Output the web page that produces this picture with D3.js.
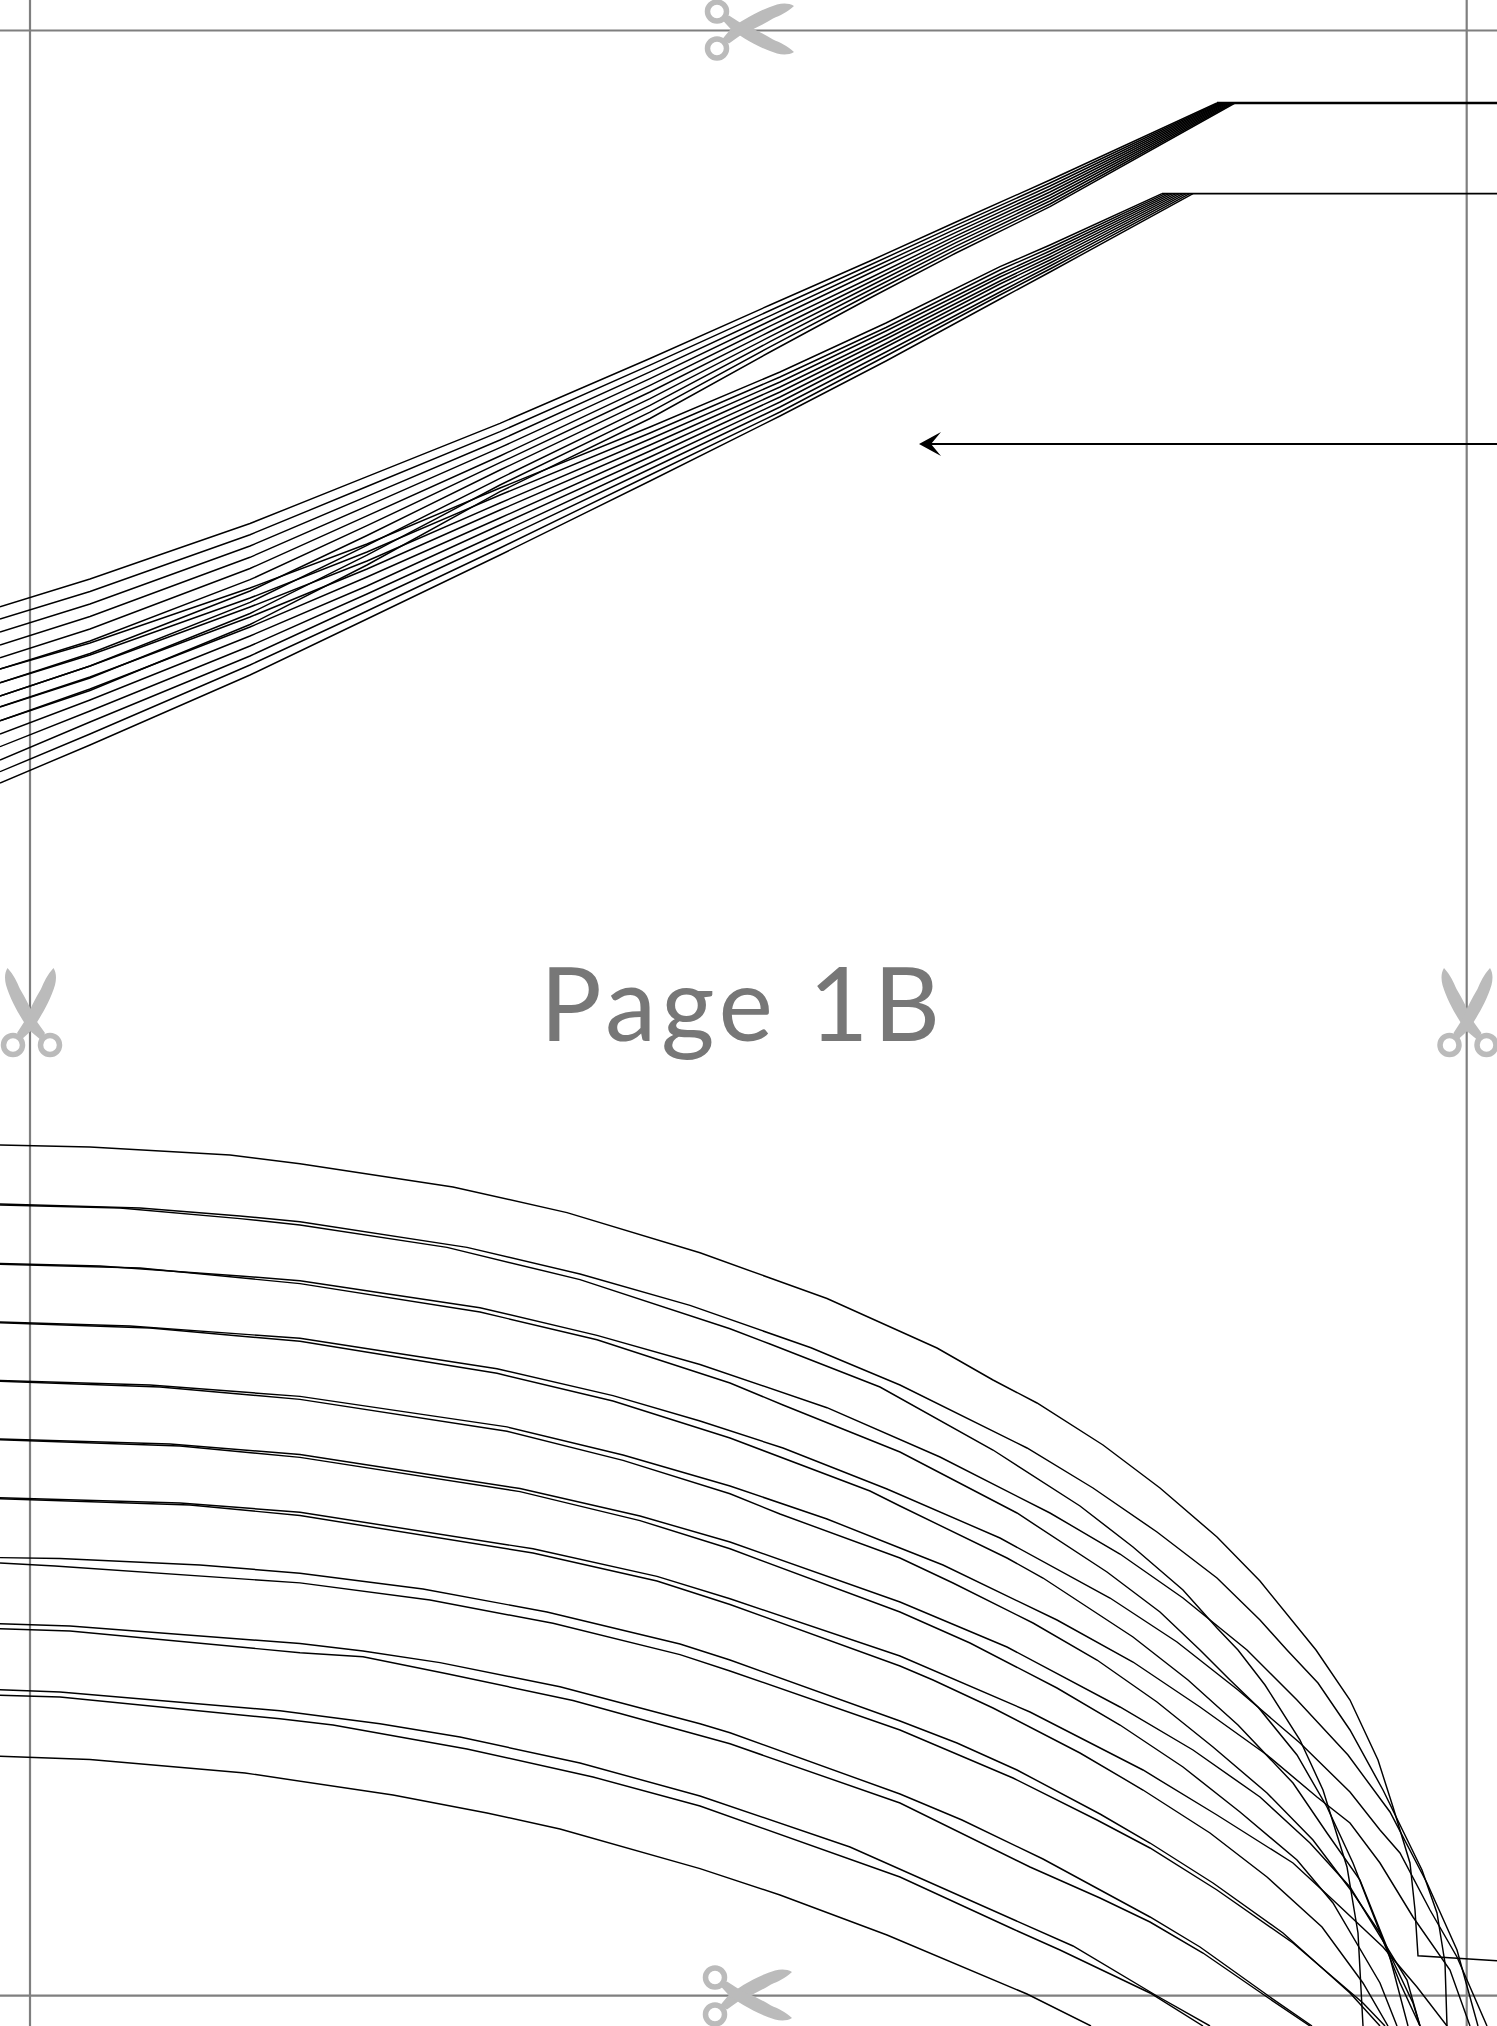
<!DOCTYPE html>
<html>
<head>
<meta charset="utf-8">
<script src="https://cdn.jsdelivr.net/npm/d3@7"></script>
<style>html,body{margin:0;padding:0;background:#fff;overflow:hidden}svg{display:block}</style>
</head>
<body>
<svg id="chart" width="1497" height="2026"></svg>
<script>
// ---- DATA (pattern sheet units) ----
const pageTitle = "Page 1B";
const sheetXDomain = [0, 1497];
const sheetYDomain = [0, 2026];
const cutX = [30, 1466.7];
const cutY = [30.5, 1995.7];

// upper graded seam, set A
const bundleAX = [0, 90, 250, 367, 500, 650, 770, 870, 956, 1050];
const bundleAY = [
  [606.7,579.0,523.5,476.7,423.3,358.5,305.0,261.0,222.0,180.0],
  [619.0,591.5,534.7,486.5,431.7,365.2,310.5,265.0,225.4,183.0],
  [632.0,604.0,546.0,496.3,440.0,371.9,315.8,269.0,228.9,186.0],
  [645.0,616.5,557.3,506.1,447.7,378.6,321.0,273.0,232.3,189.0],
  [657.7,629.0,568.5,515.9,456.0,385.3,326.2,278.0,235.8,192.0],
  [669.0,641.0,579.7,525.7,462.7,392.0,331.5,282.0,239.2,195.0],
  [682.7,653.5,591.0,535.5,470.0,398.7,336.6,286.0,242.7,198.0],
  [696.0,666.0,602.3,545.3,478.3,405.4,341.7,290.0,246.1,201.0],
  [707.0,678.0,613.5,555.1,485.0,412.1,346.8,294.0,249.6,204.0],
  [720.7,690.5,624.5,565.0,491.7,418.5,352.0,298.0,253.0,206.7]
];
const bundleAEndX = [1217,1219,1221,1223,1225,1227,1229,1231,1233,1235];
const bundleALevel = 103;

// upper graded seam, set B
const bundleBX = [0, 90, 250, 367, 500, 650, 780, 886, 1000, 1050];
const bundleBY = [
  [669.0,643,588,544,488,427,372,323.0,266.7,245],
  [682.7,655,598,552,495,433,377,327.5,270.0,248],
  [696.0,666,607,561,503,439,382,331.0,274.0,251],
  [706.7,677,617,569,510,445,387,335.5,277.0,254],
  [720.7,689,627,577,518,451,392,339.0,281.0,257],
  [734.0,700,636,586,525,457,397,343.5,284.0,260],
  [746.7,711,646,594,533,463,402,347.0,288.0,263],
  [760.0,722,656,602,540,469,407,352.0,292.0,266],
  [771.7,734,665,611,548,475,412,356.0,295.0,269],
  [783.0,745,675,619,555,481,416,361.0,299.0,272]
];
const bundleBEndX = [1162,1165.4,1168.9,1172.3,1175.8,1179.2,1182.7,1186.1,1189.6,1193];
const bundleBLevel = 193.7;

// leader lines and arrow
const leaderRightX = 1497;
const arrowLevel = 444;
const arrowTipX = 919;
const arrowBackX = 941;
const arrowNotchX = 931;
const arrowHalfHeight = 12;

// lower graded hem
const curveL0 = [[0,1145],[90,1147],[230,1155],[300,1163.7],[453,1187],[567,1212.6],[700,1252.8],[770,1278],[827,1298.5],[937,1348],[993,1380],[1037,1403],[1103,1445],[1160,1488],[1217,1537],[1260,1581],[1316,1650],[1350,1700],[1378,1760],[1393,1807],[1410,1863],[1415,1910],[1418,1955.7],[1497,1960.7]];
const curveL1a = [[0,1204],[140,1208],[240,1216],[300,1221.7],[467,1247.4],[580,1274],[690,1305.4],[811,1347.8],[900,1385],[1027,1448],[1093,1488],[1157,1532],[1217,1578],[1260,1620],[1287,1650],[1318,1683],[1350,1730],[1383,1790],[1422,1870],[1437,1913],[1445,1963],[1447,2026]];
const curveL1b = [[0,1205],[120,1208],[240,1218.6],[300,1225],[447,1247.4],[580,1279.6],[730,1328.7],[770,1344],[880,1387],[993,1450],[1080,1506],[1133,1547],[1183,1590],[1217,1628],[1238,1650],[1265,1685],[1300,1740],[1323,1790],[1347,1867],[1358,1933],[1363,2026]];
const curveL2a = [[0,1263.4],[100,1266],[240,1276],[300,1280.7],[480,1307.7],[597,1335.4],[700,1364.5],[827,1407.7],[940,1457],[1050,1513],[1120,1554],[1183,1598],[1247,1650],[1297,1700],[1348,1755],[1390,1812],[1427,1883],[1457,1950],[1478,2026]];
const curveL2b = [[0,1264.3],[140,1268],[300,1283.6],[480,1312],[597,1339.8],[730,1383],[783,1405],[900,1452],[1017,1513],[1107,1572],[1160,1612],[1200,1650],[1230,1680],[1258,1707],[1297,1755],[1327,1807],[1353,1863],[1383,1940],[1413,2003],[1420,2026]];
const curveL3a = [[0,1322],[130,1326],[300,1338.3],[497,1368.8],[613,1395.6],[700,1421],[783,1448],[887,1489],[1000,1538],[1110,1598],[1177,1642],[1238,1690],[1300,1743],[1350,1792],[1380,1830],[1400,1853],[1430,1910],[1457,1957],[1487,2026]];
const curveL3b = [[0,1322.8],[150,1328],[300,1341.3],[497,1373.3],[613,1401],[730,1438],[870,1491],[900,1506],[1007,1558],[1043,1578],[1133,1637],[1188,1680],[1238,1725],[1293,1783],[1327,1833],[1360,1880],[1388,1950],[1408,2026]];
const curveL4a = [[0,1380.4],[150,1385],[300,1396.4],[507,1426.9],[623,1455],[730,1486],[827,1519],[900,1548],[943,1565],[1057,1620],[1133,1662],[1200,1707],[1267,1755],[1317,1797],[1350,1823],[1380,1863],[1413,1917],[1450,1970],[1470,2026]];
const curveL4b = [[0,1381.3],[160,1387],[300,1399.4],[507,1431.3],[623,1460.4],[730,1493.8],[780,1514],[900,1558],[953,1583],[1033,1623],[1097,1660],[1157,1702],[1213,1747],[1267,1793],[1313,1840],[1353,1893],[1380,1933],[1400,1983],[1420,2026]];
const curveL5a = [[0,1439],[170,1444],[300,1454.5],[520,1488.5],[640,1516],[730,1542],[900,1602],[1007,1647],[1120,1707],[1193,1750],[1260,1797],[1310,1843],[1350,1887],[1407,1980],[1420,2026]];
const curveL5b = [[0,1439.8],[180,1446],[300,1457.4],[520,1491.6],[640,1520.6],[730,1548.8],[900,1612],[970,1643],[1057,1688],[1120,1725],[1183,1767],[1240,1812],[1297,1860],[1333,1903],[1380,1983],[1397,2026]];
const curveL6a = [[0,1497.8],[180,1503],[300,1512.2],[533,1548.8],[657,1576.4],[730,1598.8],[900,1656],[1030,1712],[1143,1770],[1217,1815],[1293,1863],[1333,1900],[1383,1947],[1417,1987],[1447,2026]];
const curveL6b = [[0,1498.7],[190,1505],[300,1515.5],[533,1553],[657,1581],[730,1604.5],[900,1666],[933,1680],[993,1708],[1080,1753],[1143,1790],[1210,1833],[1267,1877],[1322,1927],[1363,1983],[1388,2026]];
const curveL7a = [[0,1557.6],[60,1558.5],[200,1565],[300,1573.2],[423,1589],[547,1612],[680,1644],[730,1660],[900,1721],[957,1743],[1017,1770],[1100,1814],[1150,1843],[1213,1883],[1283,1933],[1350,1993],[1380,2026]];
const curveL7b = [[0,1563],[55,1566],[300,1582.9],[430,1600],[553,1623.3],[680,1654.6],[730,1671],[900,1730],[1013,1778],[1097,1820],[1150,1848],[1217,1890],[1293,1943],[1363,2003],[1385,2026]];
const curveL8a = [[0,1623.7],[70,1626],[300,1643.5],[363,1651],[440,1662.6],[560,1686.7],[700,1723.8],[730,1732.7],[900,1794],[962,1820],[1043,1859],[1150,1917],[1200,1947],[1270,1997],[1312,2026]];
const curveL8b = [[0,1628.7],[70,1631],[300,1652.7],[363,1656.8],[447,1673.7],[573,1700.5],[730,1743.8],[900,1803],[1030,1867],[1100,1898],[1150,1922],[1203,1953],[1267,1997],[1310,2026]];
const curveL9a = [[0,1689.8],[60,1692],[280,1710.8],[380,1723.8],[460,1737],[580,1763],[700,1796],[850,1847],[1073,1946],[1157,1996],[1210,2026]];
const curveL9b = [[0,1695.2],[60,1697],[280,1718.8],[333,1725],[467,1749],[593,1777],[700,1806],[900,1877],[1013,1929],[1060,1950],[1150,1993],[1203,2026]];
const curveL10 = [[0,1756.3],[90,1759.5],[245,1773],[393,1795],[487,1813],[560,1829],[700,1868.6],[780,1895],[887,1935],[1027,1994],[1091,2026]];
const lowerCurves = [curveL0,curveL1a,curveL1b,curveL2a,curveL2b,curveL3a,curveL3b,curveL4a,curveL4b,curveL5a,curveL5b,curveL6a,curveL6b,curveL7a,curveL7b,curveL8a,curveL8b,curveL9a,curveL9b,curveL10];

// scissor marks: pivot position and rotation
const scissorMarks = [
  {x:735, y:28.5, r:0},
  {x:733, y:1994.5, r:0},
  {x:30, y:1027, r:-90},
  {x:1466.5, y:1027, r:-90}
];

// ---- DRAW ----
const svg = d3.select("#chart");
const W = 1497, H = 2026;
const x = d3.scaleLinear().domain(sheetXDomain).range([0, W]);
const y = d3.scaleLinear().domain(sheetYDomain).range([0, H]);
const line = d3.line().x(d => x(d[0])).y(d => y(d[1])).curve(d3.curveLinear);

// crop frame
const frame = svg.append("g").attr("stroke", "#7f7f7f").attr("stroke-width", 2.2);
frame.selectAll("line.v").data(cutX).join("line").attr("class","v")
  .attr("x1", d => x(d)).attr("x2", d => x(d)).attr("y1", 0).attr("y2", H);
frame.selectAll("line.h").data(cutY).join("line").attr("class","h")
  .attr("y1", d => y(d)).attr("y2", d => y(d)).attr("x1", 0).attr("x2", W);

// scissors
const bladeUp = "M-13,11 L-3,-1 C5,-6 22,-18 42,-24 C48,-25.5 54,-25.5 59,-22.5 C52,-16 45,-13 38,-10 C28,-4 18,1 8,5 L-6,15 Z";
const bladeDown = "M-13,-9 L-3,2 C5,7 22,19 42,25 C48,26.5 54,26.5 59,23.5 C52,17 45,14 38,11 C28,5 18,0 8,-4 L-6,-13 Z";
const sc = svg.append("g").selectAll("g").data(scissorMarks).join("g")
  .attr("transform", d => `translate(${x(d.x)},${y(d.y)}) rotate(${d.r})`);
sc.append("path").attr("d", bladeUp).attr("fill", "#bbb");
sc.append("path").attr("d", bladeDown).attr("fill", "#bbb");
sc.append("circle").attr("cx",-18).attr("cy",-17).attr("r",9.5).attr("fill","none").attr("stroke","#bbb").attr("stroke-width",5.5);
sc.append("circle").attr("cx",-18).attr("cy",20).attr("r",9.5).attr("fill","none").attr("stroke","#bbb").attr("stroke-width",5.5);

// graded lines
const seams = svg.append("g").attr("fill","none").attr("stroke","#000").attr("stroke-width",1.45);
const bundleAPaths = bundleAY.map((ys,i) => ys.map((v,j) => [bundleAX[j],v]).concat([[bundleAEndX[i],bundleALevel]]));
const bundleBPaths = bundleBY.map((ys,i) => ys.map((v,j) => [bundleBX[j],v]).concat([[bundleBEndX[i],bundleBLevel]]));
seams.selectAll("path.a").data(bundleAPaths).join("path").attr("class","a").attr("d", line);
seams.selectAll("path.b").data(bundleBPaths).join("path").attr("class","b").attr("d", line);
seams.selectAll("path.c").data(lowerCurves).join("path").attr("class","c").attr("d", line);

// leaders
const lead = svg.append("g").attr("stroke","#000");
lead.append("line").attr("x1",x(bundleAEndX[0])).attr("x2",x(leaderRightX)).attr("y1",y(bundleALevel)).attr("y2",y(bundleALevel)).attr("stroke-width",2.3);
lead.append("line").attr("x1",x(bundleBEndX[0])).attr("x2",x(leaderRightX)).attr("y1",y(bundleBLevel)).attr("y2",y(bundleBLevel)).attr("stroke-width",1.7);
lead.append("line").attr("x1",x(arrowNotchX)).attr("x2",x(leaderRightX)).attr("y1",y(arrowLevel)).attr("y2",y(arrowLevel)).attr("stroke-width",2);
svg.append("path").attr("fill","#000").attr("d", line([
  [arrowTipX,arrowLevel],[arrowBackX,arrowLevel-arrowHalfHeight],[arrowNotchX,arrowLevel],[arrowBackX,arrowLevel+arrowHalfHeight]
])+"Z");

// page label
svg.append("text").attr("x",x(540)).attr("y",y(1041))
  .attr("font-family","Lato, 'Open Sans', sans-serif").attr("font-weight",400)
  .attr("font-size",103).attr("fill","#777")
  .attr("textLength",400).attr("lengthAdjust","spacing")
  .text(pageTitle);
</script>
</body>
</html>
